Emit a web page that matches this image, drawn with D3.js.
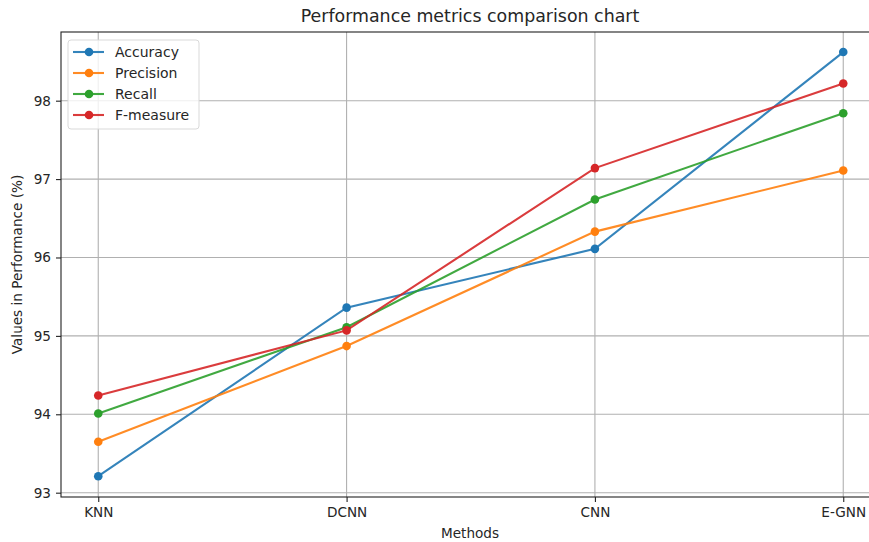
<!DOCTYPE html>
<html>
<head>
<meta charset="utf-8">
<script src="https://cdn.jsdelivr.net/npm/d3@7"></script>
<style>
  body { margin: 0; background: #fff; }
  text { font-family: "DejaVu Sans", sans-serif; fill: #262626; }
</style>
</head>
<body>
<svg id="chart"></svg>
<script>
var methods = ["KNN", "DCNN", "CNN", "E-GNN"];
var accuracy = [93.21, 95.36, 96.11, 98.62];
var precision = [93.65, 94.87, 96.33, 97.11];
var recall = [94.01, 95.11, 96.74, 97.84];
var fMeasure = [94.24, 95.07, 97.14, 98.22];
var yTicks = [93, 94, 95, 96, 97, 98];

var series = [
    {name: "Accuracy", values: accuracy, color: "#1f77b4"},
    {name: "Precision", values: precision, color: "#ff7f0e"},
    {name: "Recall", values: recall, color: "#2ca02c"},
    {name: "F-measure", values: fMeasure, color: "#d62728"}
];

var screen = {width: 869, height: 542};
var plot = {left: 61, right: 880.5, top: 32, bottom: 497};

var svg = d3.select("#chart")
    .attr("width", screen.width)
    .attr("height", screen.height);

var xScale = d3.scaleLinear()
    .domain([-0.15, 3.15])
    .range([plot.left, plot.right]);

var yScale = d3.scaleLinear()
    .domain([92.945, 98.876])
    .range([plot.bottom, plot.top]);

// grid
svg.append("g")
    .selectAll("line.vgrid")
    .data(methods)
    .enter()
    .append("line")
    .attr("x1", function(d, i){ return xScale(i) })
    .attr("x2", function(d, i){ return xScale(i) })
    .attr("y1", plot.top)
    .attr("y2", plot.bottom)
    .attr("stroke", "#b0b0b0")
    .attr("stroke-width", 1.1);

svg.append("g")
    .selectAll("line.hgrid")
    .data(yTicks)
    .enter()
    .append("line")
    .attr("x1", plot.left)
    .attr("x2", plot.right)
    .attr("y1", function(d){ return yScale(d) })
    .attr("y2", function(d){ return yScale(d) })
    .attr("stroke", "#b0b0b0")
    .attr("stroke-width", 1.1);

// axes
var xAxis = d3.axisBottom(xScale)
    .tickValues(d3.range(methods.length))
    .tickFormat(function(i){ return methods[i] })
    .tickSize(5)
    .tickPadding(5);

var yAxis = d3.axisLeft(yScale)
    .tickValues(yTicks)
    .tickFormat(d3.format("d"))
    .tickSize(5)
    .tickPadding(5);

var gx = svg.append("g")
    .attr("transform", "translate(0," + plot.bottom + ")")
    .call(xAxis);
var gy = svg.append("g")
    .attr("transform", "translate(" + plot.left + ",0)")
    .call(yAxis);

[gx, gy].forEach(function(g){
    g.select(".domain").remove();
    g.selectAll(".tick line").attr("stroke", "#222").attr("stroke-width", 1.1);
    g.selectAll(".tick text")
        .attr("font-size", 13.6)
        .style("font-family", "DejaVu Sans, sans-serif")
        .attr("fill", "#262626");
});

// spines
svg.append("rect")
    .attr("x", plot.left)
    .attr("y", plot.top)
    .attr("width", plot.right - plot.left)
    .attr("height", plot.bottom - plot.top)
    .attr("fill", "none")
    .attr("stroke", "#222")
    .attr("stroke-width", 1.1);

// lines
var line = d3.line()
    .x(function(d, i){ return xScale(i) })
    .y(function(d){ return yScale(d) });

var groups = svg.append("g")
    .selectAll("g.series")
    .data(series)
    .enter()
    .append("g");

groups.append("path")
    .attr("d", function(s){ return line(s.values) })
    .attr("fill", "none")
    .attr("stroke", function(s){ return s.color })
    .attr("stroke-width", 2.1)
    .attr("opacity", 0.9);

groups.selectAll("circle")
    .data(function(s){ return s.values.map(function(v){ return {v: v, color: s.color} }) })
    .enter()
    .append("circle")
    .attr("cx", function(d, i){ return xScale(i) })
    .attr("cy", function(d){ return yScale(d.v) })
    .attr("r", 4.3)
    .attr("fill", function(d){ return d.color });

// title and labels
svg.append("text")
    .attr("x", 470)
    .attr("y", 22)
    .attr("text-anchor", "middle")
    .attr("font-size", 17.4)
    .text("Performance metrics comparison chart");

svg.append("text")
    .attr("x", 470)
    .attr("y", 538)
    .attr("text-anchor", "middle")
    .attr("font-size", 13.6)
    .text("Methods");

svg.append("text")
    .attr("transform", "translate(22," + ((plot.top + plot.bottom) / 2) + ") rotate(-90)")
    .attr("text-anchor", "middle")
    .attr("font-size", 13.6)
    .text("Values in Performance (%)");

// legend
var legend = svg.append("g").attr("transform", "translate(68,40)");
legend.append("rect")
    .attr("width", 131)
    .attr("height", 89)
    .attr("rx", 3)
    .attr("fill", "#fff")
    .attr("fill-opacity", 0.8)
    .attr("stroke", "#d9d9d9");

var items = legend.selectAll("g.item")
    .data(series)
    .enter()
    .append("g")
    .attr("transform", function(d, i){ return "translate(0," + (12 + i * 21) + ")" });

items.append("line")
    .attr("x1", 5).attr("x2", 36)
    .attr("stroke", function(d){ return d.color })
    .attr("stroke-width", 2.1)
    .attr("opacity", 0.9);
items.append("circle")
    .attr("cx", 21)
    .attr("r", 4.3)
    .attr("fill", function(d){ return d.color });
items.append("text")
    .attr("x", 47)
    .attr("y", 5)
    .attr("font-size", 14)
    .text(function(d){ return d.name });
</script>
</body>
</html>
